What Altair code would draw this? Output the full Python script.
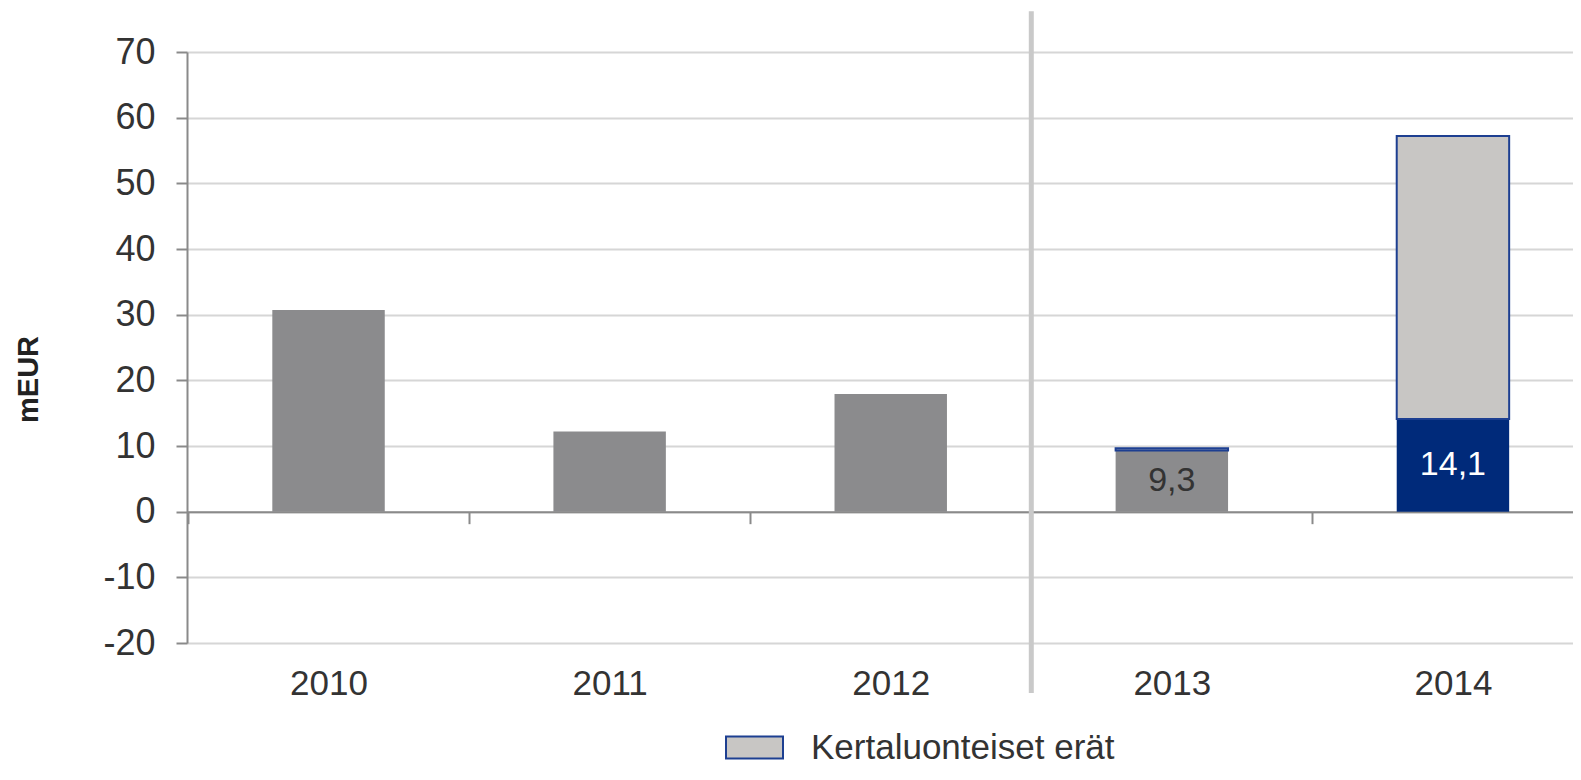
import altair as alt
import pandas as pd

FONT = "Liberation Sans"

years = ["2010", "2011", "2012", "2013", "2014"]
reported = [30.7, 12.2, 17.9, 9.3, 0.0]      # grey bars
comparable = [0.0, 0.0, 0.0, 0.0, 14.1]      # navy segment
one_off = [0.0, 0.0, 0.0, 0.35, 43.1]        # light grey, outlined ("Kertaluonteiset erät")
labelled = [("2013", "Liikevoitto"), ("2014", "Vertailukelpoinen liikevoitto")]
sep_after = ["2012"]
sep_top = [76.2]
sep_bottom = [-27.6]
y_ticks = [-20, -10, 0, 10, 20, 30, 40, 50, 60, 70]

S_REP = "Liikevoitto"
S_CMP = "Vertailukelpoinen liikevoitto"
S_ONE = "Kertaluonteiset erät"
series_names = [S_REP, S_CMP, S_ONE]
series_colors = ["#8b8b8d", "#002a7a", "#c8c6c4"]

rows = []
for i, y in enumerate(years):
    start = 0.0
    for k, (name, vals) in enumerate(zip(series_names, [reported, comparable, one_off])):
        v = vals[i]
        if v > 0:
            rows.append({"year": y, "series": name, "value": v, "ord": k,
                         "mid": start + v / 2, "txt": f"{v:.1f}".replace(".", ",")})
            start += v
df = pd.DataFrame(rows)
lab_df = df[[(r.year, r.series) in labelled for r in df.itertuples()]]

sep_df = pd.DataFrame({"year": sep_after, "top": sep_top, "bottom": sep_bottom})

W, H = 1386, 591
P_IN, P_OUT, ALIGN = 0.6, 0.2653, 0.572
step = W / (len(years) - P_IN + 2 * P_OUT)
xscale = alt.Scale(domain=years, paddingInner=P_IN, paddingOuter=P_OUT, align=ALIGN)
yscale = alt.Scale(domain=[-20, 70], nice=False)

xaxis = alt.Axis(orient="bottom", offset=-(H - H * 70 / 90), tickSize=12,
                 tickOffset=-step / 2, labelOffset=step / 2,
                 tickColor="#8a8a8a", tickWidth=2, domainColor="#8a8a8a", domainWidth=2,
                 labelPadding=143, labelFontSize=35, labelColor="#333333", labelFont=FONT,
                 labelAngle=0, grid=False, title=None)
yaxis = alt.Axis(values=y_ticks, title="mEUR", titleFontSize=29, titleFontWeight="bold",
                 titleColor="#222222", titleFont=FONT, titleAngle=270, titleX=-159, titleY=327,
                 titleBaseline="middle", titleAlign="center",
                 labelExpr="'' + datum.value",
                 labelFontSize=36, labelColor="#333333", labelFont=FONT, labelPadding=21,
                 tickSize=11, tickColor="#8a8a8a", tickWidth=2,
                 domainColor="#8a8a8a", domainWidth=2, gridColor="#d6d6d6", gridWidth=2)

bars = alt.Chart(df).mark_bar(strokeWidth=2).encode(
    x=alt.X("year:N", scale=xscale, axis=xaxis, sort=years),
    y=alt.Y("value:Q", stack="zero", scale=yscale, axis=yaxis),
    color=alt.Color("series:N", scale=alt.Scale(domain=series_names, range=series_colors),
                    legend=alt.Legend(values=[S_ONE], orient="none", legendX=538, legendY=666,
                                      title=None, symbolType="M-1,-0.386H1V0.386H-1Z",
                                      symbolSize=3249, symbolStrokeColor="#1d3f91",
                                      symbolStrokeWidth=2, labelFontSize=35, labelFont=FONT,
                                      labelColor="#333333", labelOffset=27, labelLimit=800,
                                      padding=0)),
    order=alt.Order("ord:Q"),
    stroke=alt.condition(alt.datum.series == S_ONE, alt.value("#1d3f91"), alt.value("transparent")),
)

labels = alt.Chart(lab_df).mark_text(fontSize=34, font=FONT, dy=0).encode(
    x=alt.X("year:N", sort=years),
    y=alt.Y("mid:Q"),
    text="txt:N",
    color=alt.condition(alt.datum.series == S_CMP, alt.value("white"), alt.value("#333333")),
)

sep = alt.Chart(sep_df).mark_rule(color="#c9c9c9", strokeWidth=5,
                                  xOffset=step * P_IN / 2).encode(
    x=alt.X("year:N", bandPosition=1, sort=years),
    y="top:Q",
    y2="bottom:Q",
)

chart = alt.layer(bars, sep, labels).properties(
    width=W, height=H,
    autosize=alt.AutoSizeParams(type="none"),
    padding={"left": 179, "top": 44, "right": 0, "bottom": 123},
).configure_view(stroke=None).configure(font=FONT)

chart.save("out.html", embed_options={"renderer": "svg", "actions": False})
